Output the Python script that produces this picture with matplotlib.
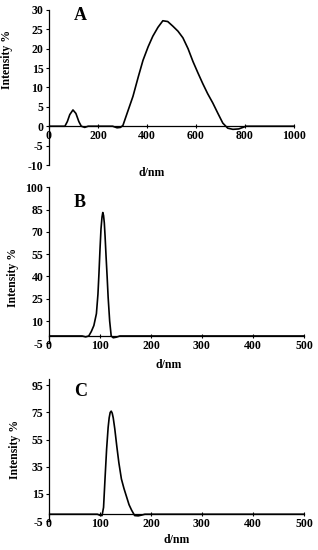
import matplotlib
matplotlib.use("Agg")
import matplotlib.pyplot as plt

plt.rcParams['font.family'] = 'Liberation Serif'
plt.rcParams['font.weight'] = 'bold'
plt.rcParams['axes.unicode_minus'] = False

# panel A: size distribution, 0-1000 nm
a_x = [0, 65, 75, 85, 98, 110, 122, 132, 146, 160, 260, 278, 292, 302, 320, 343,
       365, 384, 405, 424, 445, 465, 485, 506, 527, 547, 568, 588, 608, 628, 648,
       669, 690, 710, 730, 751, 775, 805, 1000]
a_y = [0, 0, 1.2, 3.0, 4.2, 3.3, 1.2, 0, -0.3, 0, 0, -0.4, -0.3, 0.2, 3.5, 7.7,
       12.8, 17, 20.5, 23.2, 25.5, 27.2, 27.0, 25.8, 24.5, 22.8, 20, 16.7, 13.8,
       11, 8.4, 6, 3.3, 0.8, -0.5, -0.8, -0.7, 0, 0]

# panel B
b_x = [0, 65, 72, 78, 83, 88, 93, 96, 98, 100, 102, 104, 105.5, 107, 108.5, 110,
       112, 114, 116, 119, 122, 126, 132, 139, 500]
b_y = [0, 0, -0.6, 0, 3, 7, 15, 28, 42, 58, 72, 80, 83, 81, 76, 67, 53, 40, 26,
       10, 0, -1.2, -0.8, 0, 0]

# panel C
c_x = [0, 95, 100, 104, 107, 110, 113, 116, 118, 120, 122, 124, 126, 129, 133,
       137, 142, 147, 152, 157, 162, 168, 175, 182, 188, 500]
c_y = [0, 0, -0.8, -1, 5, 27, 48, 64, 71, 75, 76, 74.5, 71, 63, 50, 38, 26, 19,
       13, 7, 3, -1, -1.2, -0.6, 0, 0]

a_yticks = [-10, -5, 0, 5, 10, 15, 20, 25, 30]
a_xticks = [0, 200, 400, 600, 800, 1000]
b_yticks = [-5, 10, 25, 40, 55, 70, 85, 100]
c_yticks = [-5, 15, 35, 55, 75, 95]
bc_xticks = [0, 100, 200, 300, 400, 500]

panels = [
    # data, ticks, limits, axes rect, label positions
    dict(x=a_x, y=a_y, xt=a_xticks, yt=a_yticks, xlim=(0, 1000), ylim=(-10, 30),
         rect=[0.154, 0.700, 0.770, 0.282], tag='A', tag_pos=(0.10, 0.965),
         xl=(0.42, -0.01), yl=(-0.147, 0.68)),
    dict(x=b_x, y=b_y, xt=bc_xticks, yt=b_yticks, xlim=(0, 500), ylim=(-5, 100),
         rect=[0.154, 0.3756, 0.802, 0.284], tag='B', tag_pos=(0.098, 0.90),
         xl=(0.47, -0.10), yl=(-0.118, 0.425)),
    dict(x=c_x, y=c_y, xt=bc_xticks, yt=c_yticks, xlim=(0, 500), ylim=(-5, 100),
         rect=[0.154, 0.0527, 0.802, 0.259], tag='C', tag_pos=(0.098, 0.91),
         xl=(0.50, -0.09), yl=(-0.11, 0.50)),
]

fig = plt.figure(figsize=(3.18, 5.5), dpi=100)

for p in panels:
    ax = fig.add_axes(p['rect'])
    ax.plot(p['x'], p['y'], color='black', lw=1.2)
    ax.set_xlim(*p['xlim'])
    ax.set_ylim(*p['ylim'])
    ax.set_xticks(p['xt'])
    ax.set_yticks(p['yt'])
    ax.spines['top'].set_visible(False)
    ax.spines['right'].set_visible(False)
    ax.spines['bottom'].set_position(('data', 0))
    for s in ('left', 'bottom'):
        ax.spines[s].set_linewidth(0.9)
    ax.tick_params(axis='both', labelsize=8.5, width=0.8, length=2.5, pad=1.5)
    ax.tick_params(axis='x', direction='inout')
    for lab in ax.get_xticklabels() + ax.get_yticklabels():
        lab.set_fontweight('bold')
    ax.set_xlabel('d/nm', fontsize=8.5, fontweight='bold')
    ax.xaxis.set_label_coords(*p['xl'])
    ax.set_ylabel('Intensity %', fontsize=8.5, fontweight='bold')
    ax.yaxis.set_label_coords(*p['yl'])
    ax.text(p['tag_pos'][0], p['tag_pos'][1], p['tag'], transform=ax.transAxes,
            fontsize=13, fontweight='bold', va='center', ha='left')

fig.savefig('out.png', dpi=100)
